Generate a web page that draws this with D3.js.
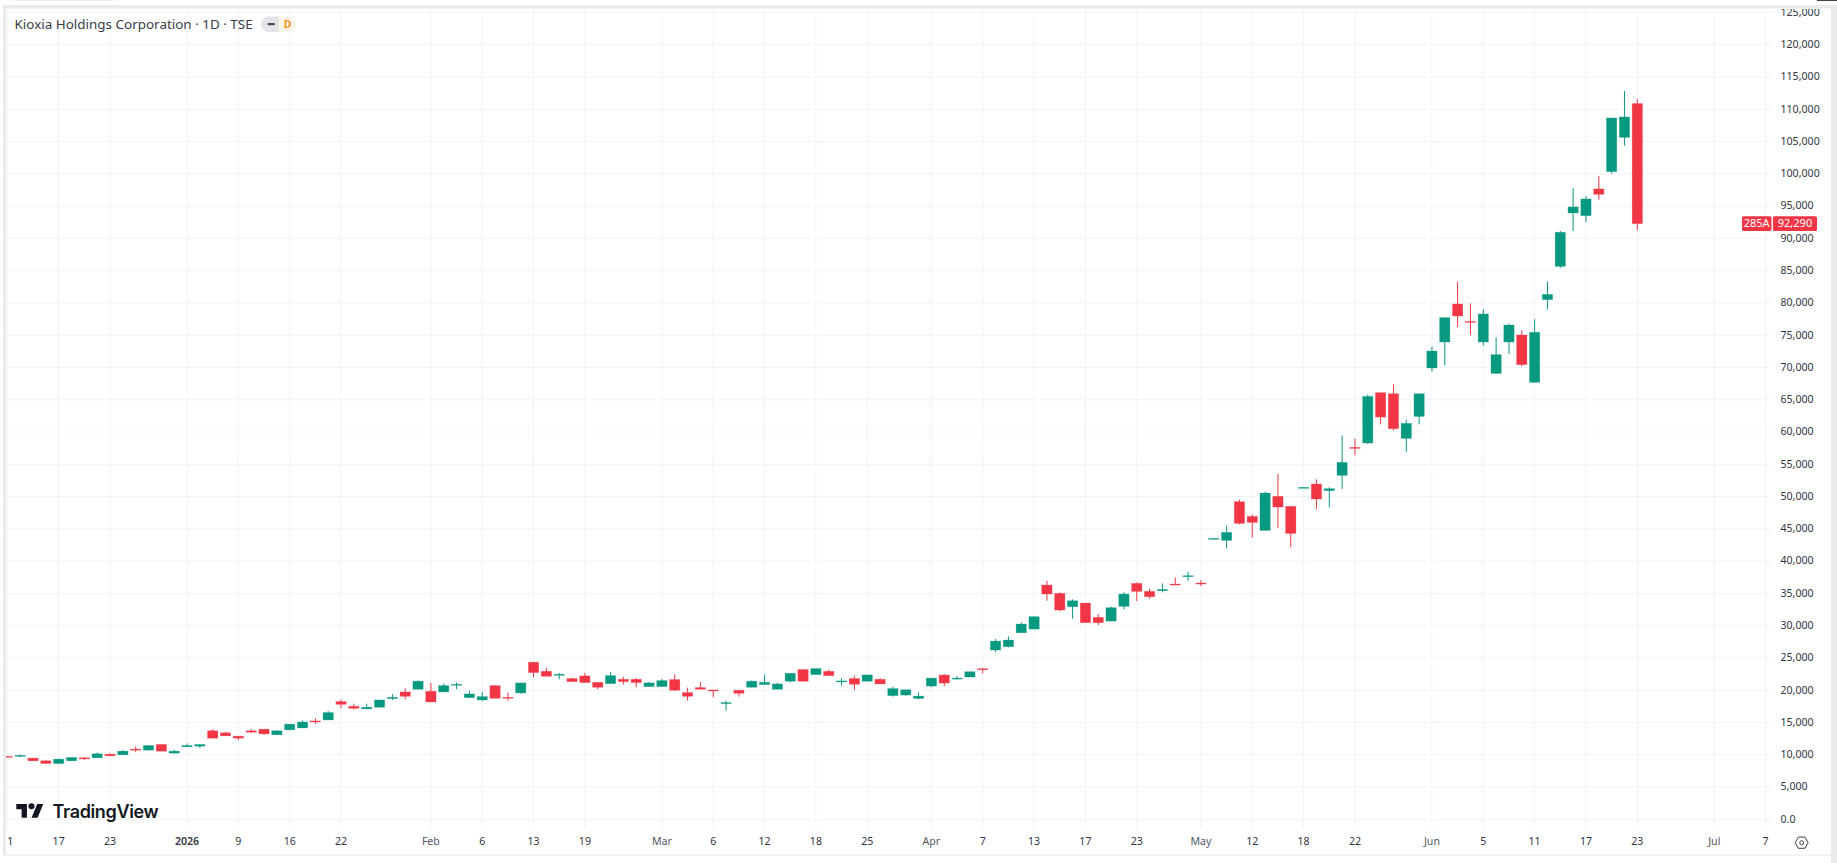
<!DOCTYPE html>
<html>
<head>
<meta charset="utf-8">
<title>Kioxia Holdings Corporation 1D</title>
<script src="https://cdn.jsdelivr.net/npm/d3@7"></script>
<style>
  html, body { margin: 0; padding: 0; background: #fff; overflow: hidden; }
  svg { display: block; }
  text { font-family: "Noto Sans", sans-serif; }
</style>
</head>
<body>
<svg id="chart" width="1837" height="863"></svg>
<script>
// Daily session prices (JPY), 11 Dec 2025 through 23 Jun 2026, oldest first.
const opens = [9750,9750,9480,9060,8650,9060,9520,9525,10090,9990,10870,10710,11600,10250,11230,11330,13710,13400,12880,13710,13970,13090,13860,14150,15240,15390,18230,17510,17100,17360,18700,19730,20150,19840,19730,20820,18850,18490,20710,18900,19580,24330,22930,22310,21800,22210,21230,21020,21690,21690,20560,20560,21640,19630,20400,20040,17980,20000,20460,20870,20150,21390,23190,22420,22930,21280,21800,21390,21690,19160,19250,18730,20640,22350,21730,22040,23330,26220,26740,28900,29470,36290,35000,32930,33500,31280,30710,32990,36550,35310,35410,36450,37630,36600,43420,43210,49200,46930,44760,50030,48480,51320,51940,50910,53290,57620,58300,66090,65930,59020,62420,69920,73950,79840,77150,73950,69090,73950,75030,67700,80510,85670,93940,93520,97660,100340,105660,110880];
const highs = [9750,10050,9480,9215,9420,9580,9630,10350,10200,10700,11280,11450,11600,10765,11750,11590,13970,13555,12880,13970,13970,13810,14740,15290,15650,16790,18540,17920,17920,18490,19420,20300,21540,21130,21020,21180,19890,19730,20710,19630,21130,24400,23500,22680,21950,22680,21230,22830,22060,21900,21280,21750,22420,20400,21280,20040,18340,20000,21540,22420,21130,22620,23300,23350,23190,21850,22260,22370,21850,20560,20070,19660,21880,22500,22190,22860,23400,27920,28340,30510,31390,36960,35160,34070,33500,31800,32930,35160,36700,35720,36550,37480,38360,37070,43520,45490,49520,47240,50760,53540,48480,51430,52670,51430,59480,58970,65830,66090,67380,61910,65930,73230,77720,83300,79940,79010,74670,76790,75760,77460,83300,91150,97810,96570,99670,108660,112840,111600];
const lows = [9700,9650,9050,8600,8550,9060,9200,9525,9780,9990,10455,10710,10560,10250,11230,11020,12570,12930,12260,13400,13090,13090,13860,14150,14770,15390,17200,16990,17100,17360,18490,18600,20150,18180,19730,20150,18850,18290,18750,18390,19470,22000,22160,21690,21330,21180,20150,21020,20870,20460,20560,20560,19850,18390,20150,18900,16840,19010,20460,20870,20150,21230,21390,22420,22260,20710,20000,21390,20970,19010,19150,18580,20490,20640,21620,22040,22600,25910,26630,28900,29470,33860,32210,31080,30460,30090,30710,32520,33810,34170,35160,36340,36960,36140,43420,41970,45690,43630,44760,45130,42130,51320,48070,48330,51170,56390,58140,61190,60260,56900,61190,69350,70330,76270,75040,73380,69090,72090,70180,67700,78960,85420,91150,92540,96000,100030,104370,91250];
const closes = [9700,9900,9060,8650,9320,9580,9350,10145,9840,10560,10710,11430,10560,10560,11440,11590,12570,12930,12570,13500,13240,13710,14740,15080,15080,16530,17820,17200,17360,18490,18900,19060,21390,18180,20710,20920,19420,19010,18750,18750,21130,22730,22160,22470,21330,21180,20460,22260,21330,21180,21130,21490,20000,19060,20150,19890,18080,19530,21390,21230,20970,22620,21390,23350,22260,21440,20920,22370,20970,20250,20070,19090,21880,21110,21880,22860,23170,27610,27770,30250,31390,34900,32420,33860,30460,30460,32780,34900,35310,34480,35620,36340,37740,36450,43520,44450,45850,46000,50550,48380,44300,51430,49620,51220,55300,57470,65520,62320,60520,61340,65930,72550,77720,77980,77050,78290,71990,76580,70440,75450,81330,90940,94870,96110,96830,108660,108810,92290];

// Time-axis labels and the session index each one sits on (indices past the
// last session are the empty future part of the axis).
const timeLabels = ["11","17","23","2026","9","16","22","Feb","6","13","19","Mar","6","12","18","25","Apr","7","13","17","23","May","12","18","22","Jun","5","11","17","23","Jul","7"];
const timeIndex = [0,4,8,14,18,22,26,33,37,41,45,51,55,59,63,67,72,76,80,84,88,93,97,101,105,111,115,119,123,127,133,137];
const monthLabels = ["Feb","Mar","Apr","May","Jun","Jul"];

const priceTicks = d3.range(0, 125001, 5000);
const lastPrice = closes[closes.length - 1];
const symbol = "285A";
const titleText = "Kioxia Holdings Corporation \u00b7 1D \u00b7 TSE";

const UP = "#089981", DOWN = "#F23645", GRID = "#f1f3f6", FRAME = "#ebebeb", TEXT = "#33363f";

const svg = d3.select("#chart");
const defs = svg.append("defs");
defs.append("clipPath").attr("id", "pane").append("rect")
  .attr("x", 6).attr("y", 9).attr("width", 1765).attr("height", 846);
defs.append("clipPath").attr("id", "scale").append("rect")
  .attr("x", 1772).attr("y", 9).attr("width", 58).attr("height", 846);

const x = d3.scaleLinear().domain([0, 127]).range([7.35, 1637.3]);
const y = d3.scaleLinear().domain([0, 110000]).range([819.3, 109.3]);

// Grid
const pane = svg.append("g").attr("clip-path", "url(#pane)");
pane.append("g").selectAll("line").data(timeIndex).join("line")
  .attr("x1", d => x(d)).attr("x2", d => x(d)).attr("y1", 9).attr("y2", 829)
  .attr("stroke", GRID).attr("stroke-width", 1);
pane.append("g").selectAll("line").data(priceTicks).join("line")
  .attr("x1", 6).attr("x2", 1771).attr("y1", d => y(d)).attr("y2", d => y(d))
  .attr("stroke", GRID).attr("stroke-width", 1);

// Candles: one wick and one body per session
const bodyW = (x(1) - x(0)) * 0.8;
const candles = pane.append("g").selectAll("g").data(d3.range(closes.length)).join("g")
  .attr("fill", i => closes[i] >= opens[i] ? UP : DOWN)
  .attr("stroke", i => closes[i] >= opens[i] ? UP : DOWN);
candles.append("line")
  .attr("x1", i => x(i)).attr("x2", i => x(i))
  .attr("y1", i => y(highs[i])).attr("y2", i => y(lows[i]))
  .attr("stroke-width", 1);
candles.append("rect")
  .attr("x", i => x(i) - bodyW / 2).attr("width", bodyW)
  .attr("y", i => y(Math.max(opens[i], closes[i])))
  .attr("height", i => Math.max(1, Math.abs(y(opens[i]) - y(closes[i]))))
  .attr("stroke-width", 0.6).attr("stroke-opacity", 0.45);

// Price scale
svg.append("g").attr("clip-path", "url(#scale)").selectAll("text").data(priceTicks).join("text")
  .attr("x", 1780.5).attr("y", d => y(d) - 0.4).attr("dy", "0.35em")
  .attr("font-size", 10.6).attr("fill", TEXT)
  .text(d => d === 0 ? "0.0" : d3.format(",")(d));

// Time scale; the first label runs under the left edge of the pane
const timeG = svg.append("g");
defs.append("clipPath").attr("id", "timeclip").append("rect")
  .attr("x", 6).attr("y", 830).attr("width", 1765).attr("height", 24);
timeG.attr("clip-path", "url(#timeclip)").selectAll("text").data(timeLabels).join("text")
  .attr("x", (d, i) => x(timeIndex[i])).attr("y", 841).attr("dy", "0.35em")
  .attr("text-anchor", "middle").attr("font-size", 10.6)
  .attr("font-weight", d => d === "2026" ? 600 : 400)
  .attr("fill", d => monthLabels.includes(d) ? "#55585f" : TEXT)
  .text(d => d);

// Last-price badges
const lastY = y(lastPrice);
const badgeG = svg.append("g");
badgeG.append("rect").attr("x", 1742).attr("y", lastY - 7.3).attr("width", 29.5).attr("height", 14.8)
  .attr("rx", 1.5).attr("fill", DOWN);
badgeG.append("rect").attr("x", 1773).attr("y", lastY - 7.3).attr("width", 44).attr("height", 14.8)
  .attr("rx", 1.5).attr("fill", DOWN);
badgeG.append("text").attr("x", 1756.7).attr("y", lastY).attr("dy", "0.35em")
  .attr("text-anchor", "middle").attr("font-size", 11).attr("fill", "#fff").text(symbol);
badgeG.append("text").attr("x", 1795).attr("y", lastY).attr("dy", "0.35em")
  .attr("text-anchor", "middle").attr("font-size", 11).attr("fill", "#fff").text(d3.format(",")(lastPrice));

// Surrounding frame
const frame = svg.append("g").attr("fill", FRAME);
frame.append("rect").attr("x", 3).attr("y", 5).attr("width", 1834).attr("height", 3.5);
frame.append("rect").attr("x", 3).attr("y", 5).attr("width", 3).attr("height", 850);
frame.append("rect").attr("x", 1831).attr("y", 5).attr("width", 6).attr("height", 858);
frame.append("rect").attr("x", 3).attr("y", 854.5).attr("width", 1828).attr("height", 1.2);
frame.append("rect").attr("x", 15).attr("y", 0).attr("width", 98).attr("height", 1);
svg.append("rect").attr("x", 1817).attr("y", 0).attr("width", 20).attr("height", 1).attr("fill", "#444");

// Legend line
svg.append("text").attr("x", 14.5).attr("y", 24).attr("dy", "0.35em")
  .attr("font-size", 13.45).attr("fill", "#3a3d46").text(titleText);
const pill = svg.append("g");
pill.append("rect").attr("x", 261).attr("y", 16.5).attr("width", 35).attr("height", 15.5).attr("rx", 7.75).attr("fill", "#fff4e8");
pill.append("rect").attr("x", 261).attr("y", 16.5).attr("width", 18).attr("height", 15.5).attr("rx", 7.75).attr("fill", "#e4e5e8");
pill.append("rect").attr("x", 268).attr("y", 16.5).attr("width", 11).attr("height", 15.5).attr("fill", "#e4e5e8");
pill.append("rect").attr("x", 267.5).attr("y", 23).attr("width", 7.5).attr("height", 2.2).attr("rx", 1).attr("fill", "#4a4d55");
pill.append("text").attr("x", 287.5).attr("y", 24).attr("dy", "0.35em").attr("text-anchor", "middle")
  .attr("font-size", 10.5).attr("font-weight", 700).attr("fill", "#f7931e").text("D");

// Brand mark
const logo = svg.append("g").attr("fill", "#131722").attr("transform", "translate(16.3,801) scale(0.76)");
logo.append("path").attr("d", "M14 22H7V11H0V4h14v18zM28 22h-8l7.5-18h8L28 22z");
logo.append("circle").attr("cx", 20).attr("cy", 7).attr("r", 4);
svg.append("text").attr("x", 52.5).attr("y", 811.5).attr("dy", "0.35em")
  .style("font-family", "Inter, sans-serif").attr("font-size", 18).attr("font-weight", 600)
  .attr("letter-spacing", "-0.35").attr("fill", "#131722").text("TradingView");

// Settings glyph in the scale corner
const gearX = 1640 + 485 / 3, gearY = 700 + 428 / 3;
const hex = d3.range(6).map(k => [gearX + 6.5 * Math.cos(k * Math.PI / 3), gearY + 6.5 * Math.sin(k * Math.PI / 3)]);
svg.append("path").attr("d", d3.line()(hex) + "Z").attr("fill", "none").attr("stroke", "#3a3d46").attr("stroke-width", 1);
svg.append("circle").attr("cx", gearX).attr("cy", gearY).attr("r", 1.9).attr("fill", "none").attr("stroke", "#3a3d46").attr("stroke-width", 1);
</script>
</body>
</html>
